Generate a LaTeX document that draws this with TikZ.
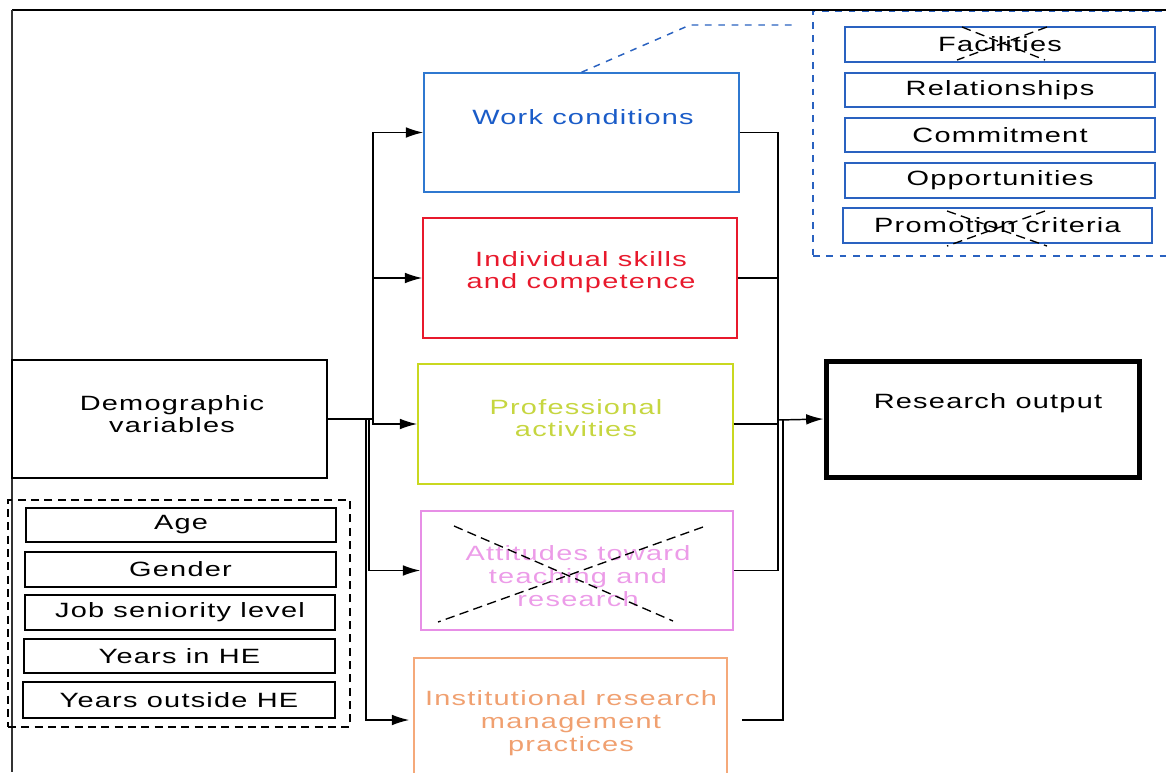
\documentclass[tikz,border=0pt]{standalone}
\usepackage{fontspec}
\setmainfont{Liberation Sans}[FakeStretch=1.4,LetterSpace=6]
\usetikzlibrary{fit,arrows.meta,calc}
\definecolor{wcbox}{HTML}{2F78D0}
\definecolor{wctext}{HTML}{1A5CC8}
\definecolor{skred}{HTML}{E8192C}
\definecolor{pagreen}{HTML}{C9D820}
\definecolor{patext}{HTML}{C6D640}
\definecolor{atpink}{HTML}{E78FE6}
\definecolor{attext}{HTML}{EC9CE8}
\definecolor{inorange}{HTML}{F5A97A}
\definecolor{intext}{HTML}{F0A070}
\definecolor{itemblue}{HTML}{2A62C0}
\begin{document}
\begin{tikzpicture}[x=0.75pt,y=-0.75pt,
  box/.style={draw, line width=1.1pt, inner sep=0pt},
  lbl/.style={font=\fontsize{15.5}{17}\selectfont, align=center, inner sep=0pt},
  item/.style={box, label={[lbl]center:#1}},
  arr/.style={line width=1.1pt, -{Latex[length=13pt,width=8pt]}},
  link/.style={line width=1.1pt},
  cross/.style={line width=1pt, dash pattern=on 7pt off 4pt},
  bluedash/.style={draw=itemblue, line width=1.1pt, dash pattern=on 5pt off 5pt}]
\clip (0,0) rectangle (1166,772);

% grouped work-condition factors
\node[bluedash, inner sep=0pt, fit={(813,11) (1185,256)}] (wcgroup) {};
\node[item=Facilities, draw=itemblue, fit={(845,27) (1155,62)}] (fac) {};
\node[item=Relationships, draw=itemblue, fit={(845,73) (1155,107)}] (rel) {};
\node[item=Commitment, draw=itemblue, fit={(845,118) (1155,152)}] (com) {};
\node[item=Opportunities, draw=itemblue, fit={(845,163) (1155,198)}] (opp) {};
\node[item=Promotion criteria, draw=itemblue, fit={(843,208) (1152,243)}] (pro) {};
\draw[cross] (962,27) -- (1045,60);
\draw[cross] (1047,27) -- (957,60);
\draw[cross] (947,211) -- (1047,246);
\draw[cross] (1045,211) -- (947,246);

% frame
\draw[line width=1.6pt] (12,10) -- (1166,10);
\draw[line width=1pt, black!80] (12,10) -- (12,772);

% demographic block
\node[box, draw=black, fit={(12,360) (327,478)}] (demo) {};
\node[lbl] (demotxt) at (172,414) {Demographic\\variables};
\node[draw, line width=1.1pt, dash pattern=on 6pt off 4pt, inner sep=0pt, fit={(8,500) (350,727)}] (demogroup) {};
\node[item=Age, draw=black, fit={(26,508) (336,542)}] (age) {};
\node[item=Gender, draw=black, fit={(25,552) (336,587)}] (gen) {};
\node[item=Job seniority level, draw=black, fit={(25,595) (335,630)}] (job) {};
\node[item=Years in HE, draw=black, fit={(24,639) (335,673)}] (yhe) {};
\node[item=Years outside HE, draw=black, fit={(23,682) (335,718)}] (yout) {};

% factor boxes
\node[box, draw=wcbox, fit={(424,73) (739,192)}] (work) {};
\node[lbl, text=wctext] (worktxt) at (583,117) {Work conditions};
\node[box, draw=skred, fit={(423,218) (737,338)}] (indiv) {};
\node[lbl, text=skred] (indivtxt) at (581,272) {Individual skills\\and competence};
\node[box, draw=pagreen, fit={(418,364) (733,484)}] (prof) {};
\node[lbl, text=patext] (proftxt) at (576,418) {Professional\\activities};
\node[box, draw=atpink, fit={(421,511) (733,630)}] (att) {};
\node[lbl, text=attext] (atttxt) at (578,576) {Attitudes toward\\teaching and\\research};
\draw[cross] (454,526) -- (673,621);
\draw[cross] (703,527) -- (438,622);
\node[box, draw=inorange, fit={(414,658) (727,782)}] (inst) {};
\node[lbl, text=intext] (insttxt) at (571,723) {Institutional research\\management\\practices};

% outcome
\node[draw, line width=3.75pt, inner sep=0pt, fit={(826,361) (1139,477)}] (res) {};
\node[lbl] (restxt) at (988,403) {Research output};

% link from work conditions to its factors
\coordinate (wcend) at (795,25);
\draw[bluedash] (work.north) -- (690,25) -- (wcend);

% connectors from the demographic block
\coordinate (lb1) at (373,419);
\coordinate (lb2) at (369,419);
\coordinate (lb3) at (366,419);
\draw[link] (demo.east) -- (lb1);
\draw[arr] (lb1) |- (work.west);
\draw[arr] (lb1) |- (indiv.west);
\draw[arr] (lb1) |- (prof.west);
\draw[arr] (lb2) |- (att.west);
\draw[arr] (lb3) |- ([xshift=-3pt]inst.west);

% connectors into research output
\coordinate (rb1) at (778,420);
\coordinate (rb2) at (783,420);
\draw[link] (work.east) -| (rb1);
\draw[link] (indiv.east) -| (rb1);
\draw[link] (prof.east) -| (rb1);
\draw[link] (att.east) -| (rb1);
\draw[link] ([xshift=11pt]inst.east) -| (rb2);
\draw[arr] (rb1) -- (res.west);
\end{tikzpicture}
\end{document}
